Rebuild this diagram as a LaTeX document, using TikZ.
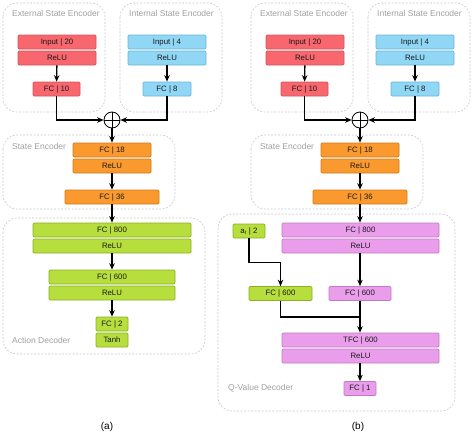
\documentclass[tikz,border=0pt]{standalone}
\usepackage{fontspec}
\setmainfont{Liberation Sans}
\usetikzlibrary{arrows.meta}
\definecolor{redfill}{HTML}{F8666E}
\definecolor{reddraw}{HTML}{D4545B}
\definecolor{bluefill}{HTML}{8FD7F5}
\definecolor{bluedraw}{HTML}{6CB4D4}
\definecolor{orangefill}{HTML}{FA9A2E}
\definecolor{orangedraw}{HTML}{D07A1A}
\definecolor{greenfill}{HTML}{B6DE3C}
\definecolor{greendraw}{HTML}{8DB024}
\definecolor{pinkfill}{HTML}{EA9DEB}
\definecolor{pinkdraw}{HTML}{C27BC3}
\definecolor{contdraw}{HTML}{C8C8C8}
\definecolor{labgray}{HTML}{A0A0A0}
\definecolor{txt}{HTML}{1A1A1A}
\tikzset{
  box/.style={draw, line width=0.7pt, rounded corners=1.2pt, minimum height=14pt, inner sep=0pt, font=\fontsize{7.8}{8}\selectfont, text=txt},
  redbox/.style={box, fill=redfill, draw=reddraw},
  bluebox/.style={box, fill=bluefill, draw=bluedraw},
  orangebox/.style={box, fill=orangefill, draw=orangedraw},
  greenbox/.style={box, fill=greenfill, draw=greendraw},
  pinkbox/.style={box, fill=pinkfill, draw=pinkdraw},
  container/.style={draw=contdraw, dashed, dash pattern=on 2pt off 1.5pt, line width=0.6pt, rounded corners=14pt},
  grouplabel/.style={anchor=west, inner sep=0pt, text=labgray, font=\fontsize{8.5}{9}\selectfont},
  conn/.style={line width=1.3pt, -{Stealth[length=6.5pt,width=5.5pt]}},
  plainconn/.style={line width=1.3pt},
  sumnode/.style={circle, draw, line width=0.8pt, fill=white, minimum size=16pt, inner sep=0pt},
  caption/.style={font=\fontsize{10}{12}\selectfont}
}
\begin{document}
\begin{tikzpicture}[x=1pt,y=-1pt]
\useasboundingbox (0,0) rectangle (474,439);
% ===== Panel (a) =====
\draw[container] (3,3) rectangle (105,112);
\draw[container] (120,3) rectangle (222,112);
\draw[container] (3,135) rectangle (175,209);
\draw[container] (3,218) rectangle (205,354);
\node[grouplabel] (la1) at (12,13) {External State Encoder};
\node[grouplabel] (la2) at (129,13) {Internal State Encoder};
\node[grouplabel] (la3) at (12,146) {State Encoder};
\node[grouplabel] (la4) at (12,340) {Action Decoder};

\node[redbox, minimum width=78pt] (a_in20) at (57,42) {Input | 20};
\node[redbox, minimum width=78pt] (a_relu1) at (57,58) {ReLU};
\node[redbox, minimum width=47pt] (a_fc10) at (56.5,89) {FC | 10};
\node[bluebox, minimum width=78pt] (a_in4) at (167,42) {Input | 4};
\node[bluebox, minimum width=78pt] (a_relu2) at (167,58) {ReLU};
\node[bluebox, minimum width=48pt] (a_fc8) at (167,89) {FC | 8};
\node[sumnode] (a_sum) at (112,120) {};
\draw[line width=0.8pt] (a_sum.north) -- (a_sum.south);
\draw[line width=0.8pt] (a_sum.west) -- (a_sum.east);
\node[orangebox, minimum width=78pt] (a_fc18) at (112,150) {FC | 18};
\node[orangebox, minimum width=78pt] (a_relu3) at (112,166) {ReLU};
\node[orangebox, minimum width=94pt] (a_fc36) at (112,197) {FC | 36};
\node[greenbox, minimum width=158pt] (a_fc800) at (112,230) {FC | 800};
\node[greenbox, minimum width=158pt] (a_relu4) at (112,246) {ReLU};
\node[greenbox, minimum width=126pt] (a_fc600) at (112,277) {FC | 600};
\node[greenbox, minimum width=126pt] (a_relu5) at (112,293) {ReLU};
\node[greenbox, minimum width=32pt] (a_fc2) at (112,324) {FC | 2};
\node[greenbox, minimum width=32pt] (a_tanh) at (112,340) {Tanh};

\draw[conn] (a_relu1) -- (a_fc10);
\draw[conn] (a_relu2) -- (a_fc8);
\draw[conn] (a_fc10.south) |- (a_sum.west);
\draw[conn] (a_fc8.south) |- (a_sum.east);
\draw[conn] (a_sum) -- (a_fc18);
\draw[conn] (a_relu3) -- (a_fc36);
\draw[conn] (a_fc36) -- (a_fc800);
\draw[conn] (a_relu4) -- (a_fc600);
\draw[conn] (a_relu5) -- (a_fc2);
\node[caption] (capa) at (107,427) {(a)};

% ===== Panel (b) =====
\draw[container] (251,3) rectangle (353,112);
\draw[container] (368,3) rectangle (470,112);
\draw[container] (251,135) rectangle (423,209);
\draw[container] (218,214) rectangle (455,411);
\node[grouplabel] (lb1) at (260,13) {External State Encoder};
\node[grouplabel] (lb2) at (377,13) {Internal State Encoder};
\node[grouplabel] (lb3) at (260,146) {State Encoder};
\node[grouplabel] (lb4) at (228,388) {Q-Value Decoder};

\node[redbox, minimum width=78pt] (b_in20) at (305,42) {Input | 20};
\node[redbox, minimum width=78pt] (b_relu1) at (305,58) {ReLU};
\node[redbox, minimum width=47pt] (b_fc10) at (304.5,89) {FC | 10};
\node[bluebox, minimum width=78pt] (b_in4) at (415,42) {Input | 4};
\node[bluebox, minimum width=78pt] (b_relu2) at (415,58) {ReLU};
\node[bluebox, minimum width=48pt] (b_fc8) at (415,89) {FC | 8};
\node[sumnode] (b_sum) at (360,120) {};
\draw[line width=0.8pt] (b_sum.north) -- (b_sum.south);
\draw[line width=0.8pt] (b_sum.west) -- (b_sum.east);
\node[orangebox, minimum width=78pt] (b_fc18) at (360,150) {FC | 18};
\node[orangebox, minimum width=78pt] (b_relu3) at (360,166) {ReLU};
\node[orangebox, minimum width=94pt] (b_fc36) at (360,197) {FC | 36};
\node[pinkbox, minimum width=157pt] (b_fc800) at (360.5,230) {FC | 800};
\node[pinkbox, minimum width=157pt] (b_relu4) at (360.5,246) {ReLU};
\node[greenbox, minimum width=32pt] (b_at) at (249,231) {a\textsubscript{t} | 2};
\node[greenbox, minimum width=63pt] (b_fc600g) at (280.5,293.5) {FC | 600};
\node[pinkbox, minimum width=62pt] (b_fc600p) at (360,293.5) {FC | 600};
\node[pinkbox, minimum width=157pt] (b_tfc) at (360.5,340) {TFC | 600};
\node[pinkbox, minimum width=157pt] (b_relu5) at (360.5,356) {ReLU};
\node[pinkbox, minimum width=32pt] (b_fc1) at (360,388.5) {FC | 1};
\coordinate (b_j) at (360,317);

\draw[conn] (b_relu1) -- (b_fc10);
\draw[conn] (b_relu2) -- (b_fc8);
\draw[conn] (b_fc10.south) |- (b_sum.west);
\draw[conn] (b_fc8.south) |- (b_sum.east);
\draw[conn] (b_sum) -- (b_fc18);
\draw[conn] (b_relu3) -- (b_fc36);
\draw[conn] (b_fc36.south) -- (b_fc36.south |- b_fc800.north);
\draw[conn] (b_relu4.south -| b_fc600p) -- (b_fc600p);
\draw[conn] (b_at.south) -- ++(0,24) -| (b_fc600g.north);
\draw[plainconn] (b_fc600g.south) |- (b_j);
\draw[conn] (b_fc600p.south) -- (b_fc600p.south |- b_tfc.north);
\draw[conn] (b_relu5.south -| b_fc1) -- (b_fc1);
\node[caption] (capb) at (358,427) {(b)};
\end{tikzpicture}
\end{document}
